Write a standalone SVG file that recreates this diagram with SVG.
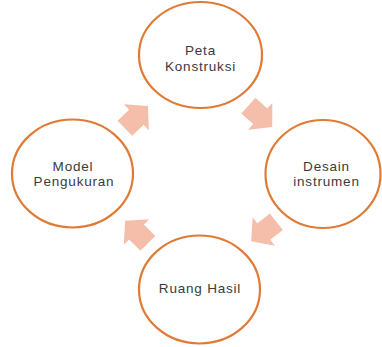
<svg xmlns="http://www.w3.org/2000/svg" width="382" height="347" viewBox="0 0 382 347">
<defs>
<style>
.node ellipse{fill:#FFFFFF;stroke:#E07A35;stroke-width:2.2}
.node text{font-family:"Liberation Sans","Open Sans",sans-serif;font-size:13.5px;fill:#3A3A3A;text-anchor:middle;letter-spacing:0.8px}
.arrow{fill:#F4BEAB}
</style>
<path id="blk" d="M-16,-10.5 L0,-10.5 L0,-18 L16,0 L0,18 L0,10.5 L-16,10.5 Z"/>
</defs>
<rect width="382" height="347" fill="#FFFFFF"/>
<g id="connectors">
<use href="#blk" class="arrow" transform="translate(136.4,117.2) rotate(-44)"/>
<use href="#blk" class="arrow" transform="translate(260.3,116.3) rotate(42)"/>
<use href="#blk" class="arrow" transform="translate(263.8,231.5) rotate(142)"/>
<use href="#blk" class="arrow" transform="translate(136.5,232) rotate(-135)"/>
</g>
<g id="peta" class="node">
<ellipse cx="200.5" cy="55" rx="61.5" ry="53"/>
<text x="200.5" y="55">Peta</text>
<text x="200.5" y="70.5">Konstruksi</text>
</g>
<g id="desain" class="node">
<ellipse cx="323" cy="174" rx="57.5" ry="54"/>
<text x="326.5" y="170.5">Desain</text>
<text x="326.5" y="186">instrumen</text>
</g>
<g id="ruang" class="node">
<ellipse cx="199.5" cy="289.5" rx="60.5" ry="54"/>
<text x="200" y="292.5">Ruang Hasil</text>
</g>
<g id="model" class="node">
<ellipse cx="72.5" cy="173.5" rx="60.5" ry="54"/>
<text x="73" y="170.5">Model</text>
<text x="74" y="186">Pengukuran</text>
</g>
</svg>
